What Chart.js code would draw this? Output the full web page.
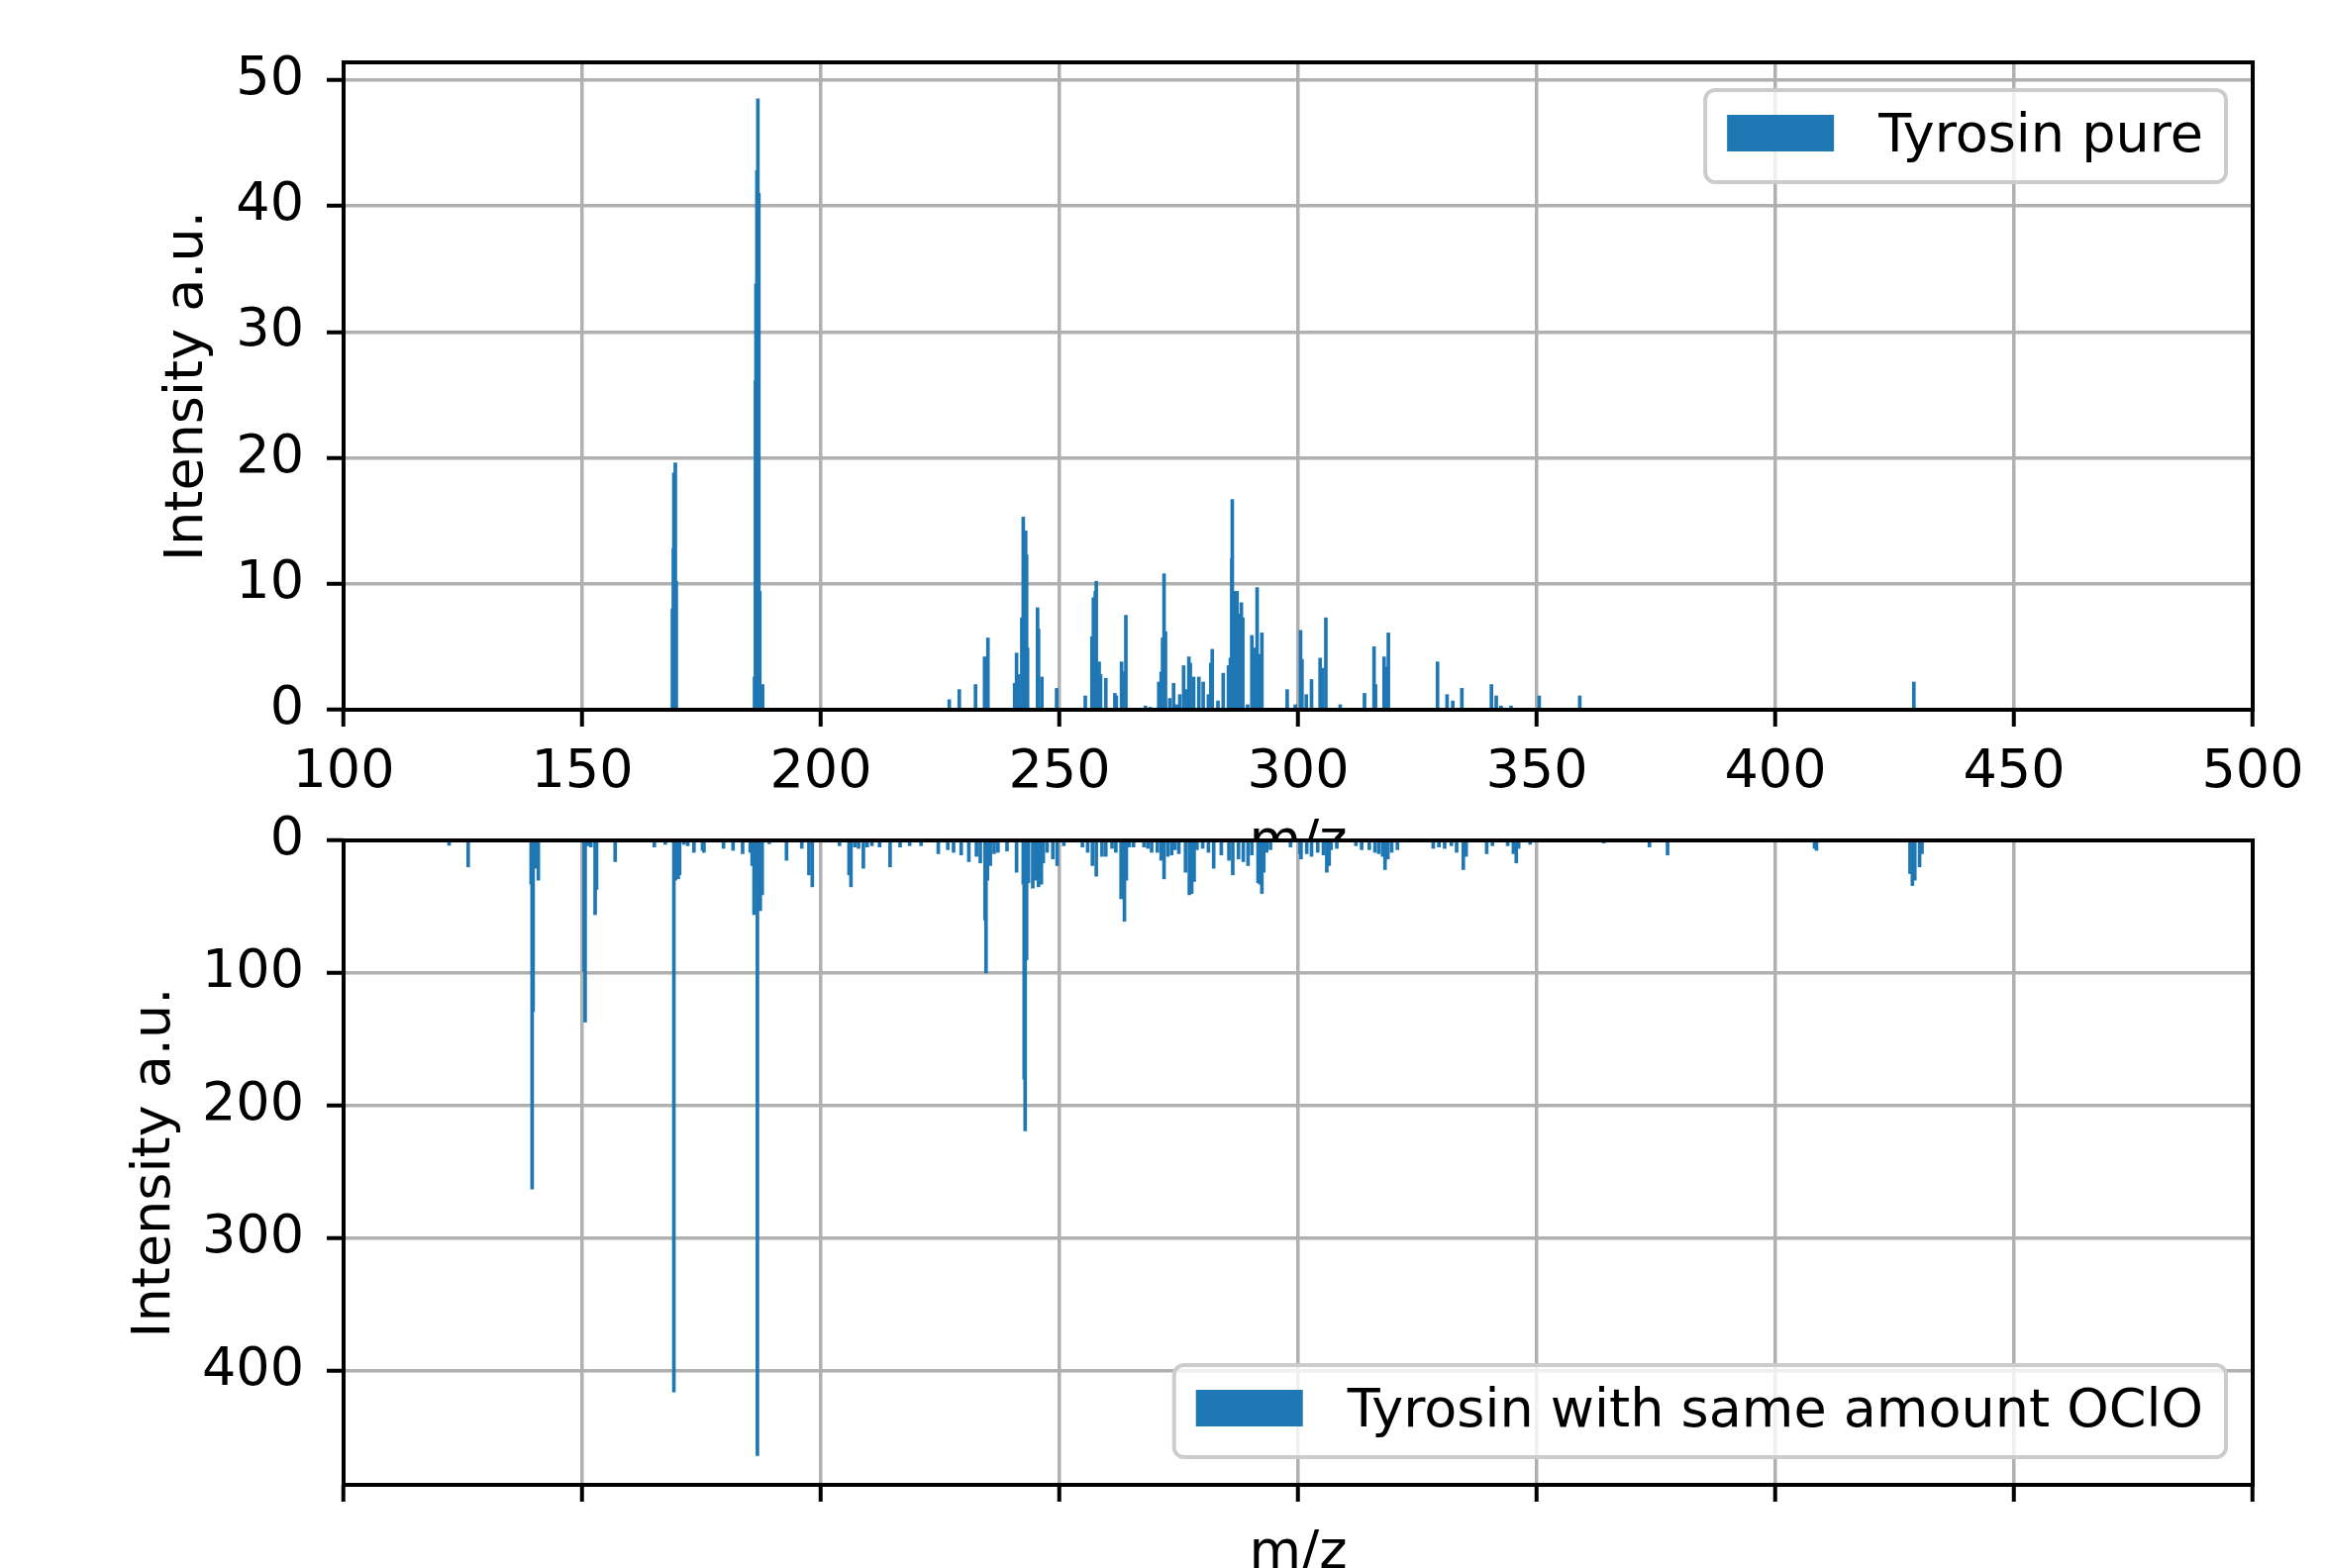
<!DOCTYPE html>
<html>
<head>
<meta charset="utf-8">
<script src="https://cdn.jsdelivr.net/npm/chart.js@4.4.0/dist/chart.umd.min.js"></script>
<style>
  html, body { margin: 0; padding: 0; background: #fff; overflow: hidden; width: 2348px; height: 1584px; }
  canvas { position: absolute; left: 0; }
  #topo { top: 0; }
  #baixo { top: 760px; }
</style>
</head>
<body>
<canvas id="topo" width="2348" height="880"></canvas>
<canvas id="baixo" width="2348" height="850"></canvas>
<script>
// espectro de massa - tirosina pura
const mzPuro = [
  168.9, 169.1, 169.2, 169.5, 169.7, 186.1, 186.3, 186.4, 186.6, 186.8, 187.0, 187.2, 187.8,
  226.9, 229.0, 232.4, 234.3, 235.0, 240.6, 241.0, 241.4, 242.1, 242.4, 242.9, 243.1, 243.3,
  245.4, 245.6, 246.3, 249.4, 255.4, 256.8, 257.1, 257.5, 257.7, 258.3, 258.6, 259.7, 261.6,
  261.9, 263.0, 263.3, 263.9, 268.0, 269.0, 270.8, 271.3, 271.6, 271.9, 272.2, 273.1, 273.9,
  274.5, 275.2, 276.0, 276.5, 277.1, 277.4, 278.1, 279.2, 280.1, 281.2, 281.7, 282.0, 283.2,
  284.3, 285.4, 285.8, 286.1, 286.2, 286.6, 287.2, 287.5, 288.1, 288.4, 289.4, 290.3, 290.7,
  291.4, 292.0, 292.4, 297.7, 299.4, 300.5, 300.8, 301.7, 302.8, 304.6, 305.1, 305.8, 308.8,
  313.9, 315.9, 316.2, 318.0, 318.5, 318.9, 329.2, 331.2, 332.4, 334.3, 340.5, 341.5, 342.5,
  344.6, 350.5, 359.0, 429.0
];
const intPuro = [
  8.0, 12.8, 18.8, 19.6, 10.2, 2.6, 26.1, 33.8, 42.8, 48.5, 41.0, 9.4, 2.0,
  0.8, 1.6, 2.0, 4.2, 5.7, 2.1, 4.5, 2.8, 7.3, 15.3, 14.2, 12.3, 4.9,
  8.1, 6.4, 2.6, 1.7, 1.1, 5.8, 8.9, 9.4, 10.2, 3.8, 2.8, 2.5, 1.3,
  1.1, 3.8, 3.0, 7.5, 0.3, 0.2, 2.2, 3.0, 5.7, 10.8, 6.2, 0.9, 2.1,
  0.4, 1.2, 3.5, 1.6, 4.2, 3.7, 2.6, 2.6, 2.2, 1.2, 3.7, 4.8, 0.7,
  2.9, 3.5, 4.1, 12.0, 16.7, 9.4, 9.4, 7.6, 8.5, 7.3, 0.4, 5.9, 4.9,
  9.7, 4.4, 6.1, 1.6, 0.4, 6.3, 4.0, 1.2, 2.4, 4.1, 3.3, 7.3, 0.4,
  1.3, 5.0, 2.0, 4.2, 3.4, 6.1, 3.8, 1.2, 0.7, 1.7, 2.0, 1.1, 0.3,
  0.3, 1.1, 1.1, 2.2
];

// tirosina com OClO
const mzOclo = [
  122.1, 126.1, 139.3, 139.5, 139.7, 140.4, 140.8, 150.4, 150.6, 151.1, 151.8, 152.7, 153.0,
  156.9, 165.1, 167.4, 169.2, 169.5, 170.1, 170.4, 171.3, 172.1, 173.4, 175.2, 175.5, 179.6,
  181.6, 183.6, 185.2, 185.6, 186.0, 186.4, 186.7, 187.0, 187.3, 187.7, 189.2, 192.8, 196.0,
  197.5, 198.2, 203.9, 205.9, 206.3, 207.1, 207.9, 208.9, 209.7, 210.7, 212.3, 214.5, 216.6,
  218.6, 221.0, 224.6, 226.6, 227.8, 229.4, 231.0, 232.6, 233.4, 234.4, 234.6, 234.9, 235.5,
  236.3, 237.1, 239.0, 241.0, 242.4, 242.6, 242.8, 243.1, 243.5, 244.4, 245.0, 245.6, 246.2,
  246.6, 247.4, 248.6, 249.5, 250.9, 254.8, 255.9, 256.9, 257.7, 258.9, 259.7, 261.0, 261.8,
  262.9, 263.6, 264.0, 264.6, 265.5, 267.7, 268.5, 269.3, 270.5, 271.3, 271.9, 272.7, 273.5,
  274.2, 275.0, 276.4, 277.2, 277.7, 278.2, 278.8, 280.0, 281.2, 282.3, 283.9, 285.5, 286.3,
  287.5, 288.5, 289.5, 290.3, 291.6, 292.0, 292.4, 292.8, 293.4, 294.2, 298.4, 300.4, 300.6,
  301.8, 302.8, 304.1, 305.3, 306.0, 306.5, 306.9, 308.1, 312.1, 313.3, 314.9, 316.1, 316.9,
  317.7, 318.2, 318.8, 319.6, 320.8, 328.3, 329.5, 330.7, 332.1, 333.2, 334.6, 335.2, 339.5,
  340.7, 343.9, 345.1, 345.7, 346.2, 348.6, 364.0, 373.6, 377.4, 408.2, 408.6, 428.2, 428.7,
  429.2, 430.2, 430.7
];
const intOclo = [
  3.7, 20, 33, 263, 129, 21, 30, 99, 137, 4, 5, 56, 37,
  16, 5, 3, 416, 30, 29, 26, 3, 4, 9, 7.5, 9, 6,
  7.5, 10, 9, 19, 56, 30, 464, 41, 53, 41, 2.5, 15, 6,
  26, 35, 4, 26, 35, 5, 6, 21, 5, 4, 5, 20, 5,
  4, 4, 10, 7, 9, 11, 16, 12, 17, 60, 100, 30, 19,
  10, 9, 8, 24, 33, 180, 219, 90, 32, 36, 30, 35, 33,
  17, 9, 14, 19, 4, 5, 9, 19, 27, 12, 12, 6, 9,
  44, 61, 30, 5, 5, 5, 6, 9, 9, 15, 29, 12, 11,
  7, 10, 24, 41, 40, 31, 7, 6, 9, 21, 11, 15, 26,
  14, 16, 19, 11, 32, 33, 40, 24, 9, 7, 5, 10, 14,
  10, 12, 9, 11, 24, 19, 7, 6, 4, 7, 7, 9, 10,
  12, 22, 14, 9, 7, 6, 5, 6, 4, 9, 22, 12, 10,
  4, 4, 10, 17, 6, 3, 2, 5, 11, 6, 7.5, 25, 34,
  30, 20, 10
];

const ticksMz = [100, 150, 200, 250, 300, 350, 400, 450, 500];

const fonte = "DejaVu Sans";
const tam = 54;
const azul = "#1f77b4";
Chart.defaults.font.family = fonte;
Chart.defaults.color = "#000";

// moldura preta + legenda no estilo do matplotlib
const molduraLegenda = {
  id: "molduraLegenda",
  beforeDraw(chart, args, opts) {
    if (opts.fundo) {
      const a = chart.chartArea;
      chart.ctx.save();
      chart.ctx.fillStyle = "#fff";
      chart.ctx.fillRect(a.left, a.top - 2, a.right - a.left, a.bottom - a.top + 2);
      chart.ctx.restore();
    }
  },
  afterDraw(chart, args, opts) {
    const ctx = chart.ctx;
    const a = chart.chartArea;
    ctx.save();
    ctx.strokeStyle = "#000";
    ctx.lineWidth = 4;
    ctx.strokeRect(a.left, a.top, a.right - a.left, a.bottom - a.top);

    const ds = chart.data.datasets[0];
    ctx.font = tam + "px \"" + fonte + "\"";
    const tw = ctx.measureText(ds.label).width;
    const w = 22 + 108 + 45 + tw + 23;
    const h = 93;
    const x = a.right - 27 - w;
    const y = opts.canto === "cima" ? a.top + 28 : a.bottom - 28 - h;
    ctx.beginPath();
    ctx.roundRect(x, y, w, h, 10);
    ctx.fillStyle = "rgba(255,255,255,0.8)";
    ctx.fill();
    ctx.strokeStyle = "#cccccc";
    ctx.lineWidth = 4;
    ctx.stroke();
    ctx.fillStyle = azul;
    ctx.fillRect(x + 22, y + 25, 108, 37);
    ctx.fillStyle = "#000";
    ctx.textBaseline = "alphabetic";
    ctx.fillText(ds.label, x + 175, y + 62);
    ctx.restore();
  }
};

function eixoX(comRotulos, padBaixo, altura) {
  return {
    type: "linear",
    min: 100,
    max: 500,
    offset: false,
    afterBuildTicks: (s) => { s.ticks = ticksMz.map(v => ({ value: v })); },
    afterFit: (s) => { s.height = altura; },
    ticks: {
      autoSkip: false,
      maxRotation: 0,
      padding: 15,
      font: { size: tam },
      callback: (v) => comRotulos ? String(v) : ""
    },
    grid: { offset: false, color: "#b0b0b0", lineWidth: 3.5, tickLength: 17, tickColor: "#000", tickWidth: 4 },
    border: { display: false },
    title: { display: true, text: "m/z", font: { size: tam, lineHeight: 1 }, padding: { top: 0, bottom: padBaixo } }
  };
}

function eixoY(max, passo, inverso, padTitulo) {
  return {
    min: 0,
    max: max,
    reverse: inverso,
    afterFit: (s) => { s.width = 347; },
    ticks: { stepSize: passo, includeBounds: false, padding: 23, font: { size: tam } },
    grid: { color: "#b0b0b0", lineWidth: 3.5, tickLength: 17, tickColor: "#000", tickWidth: 4 },
    border: { display: false },
    title: { display: true, text: "Intensity a.u.", font: { size: tam, lineHeight: 1 }, padding: { top: padTitulo, bottom: 0 } }
  };
}

new Chart(document.getElementById("topo"), {
  type: "bar",
  data: {
    datasets: [{
      label: "Tyrosin pure",
      data: mzPuro.map((m, i) => ({ x: m, y: intPuro[i] })),
      backgroundColor: azul,
      borderWidth: 0,
      barThickness: 3
    }]
  },
  options: {
    responsive: false,
    animation: false,
    devicePixelRatio: 1,
    layout: { padding: { top: 63, right: 73, left: 0, bottom: 0 } },
    plugins: {
      legend: { display: false },
      tooltip: { enabled: false },
      molduraLegenda: { canto: "cima", fundo: false }
    },
    scales: {
      x: eixoX(true, 1, 163),
      y: eixoY(51.4, 10, false, 163)
    }
  },
  plugins: [molduraLegenda]
});

new Chart(document.getElementById("baixo"), {
  type: "bar",
  data: {
    datasets: [{
      label: "Tyrosin with same amount OClO",
      data: mzOclo.map((m, i) => ({ x: m, y: intOclo[i] })),
      backgroundColor: azul,
      borderWidth: 0,
      barThickness: 3
    }]
  },
  options: {
    responsive: false,
    animation: false,
    devicePixelRatio: 1,
    layout: { padding: { top: 89, right: 73, left: 0, bottom: 0 } },
    plugins: {
      legend: { display: false },
      tooltip: { enabled: false },
      molduraLegenda: { canto: "baixo", fundo: true }
    },
    scales: {
      x: eixoX(false, 13, 110),
      y: eixoY(486, 100, true, 130)
    }
  },
  plugins: [molduraLegenda]
});
</script>
</body>
</html>
